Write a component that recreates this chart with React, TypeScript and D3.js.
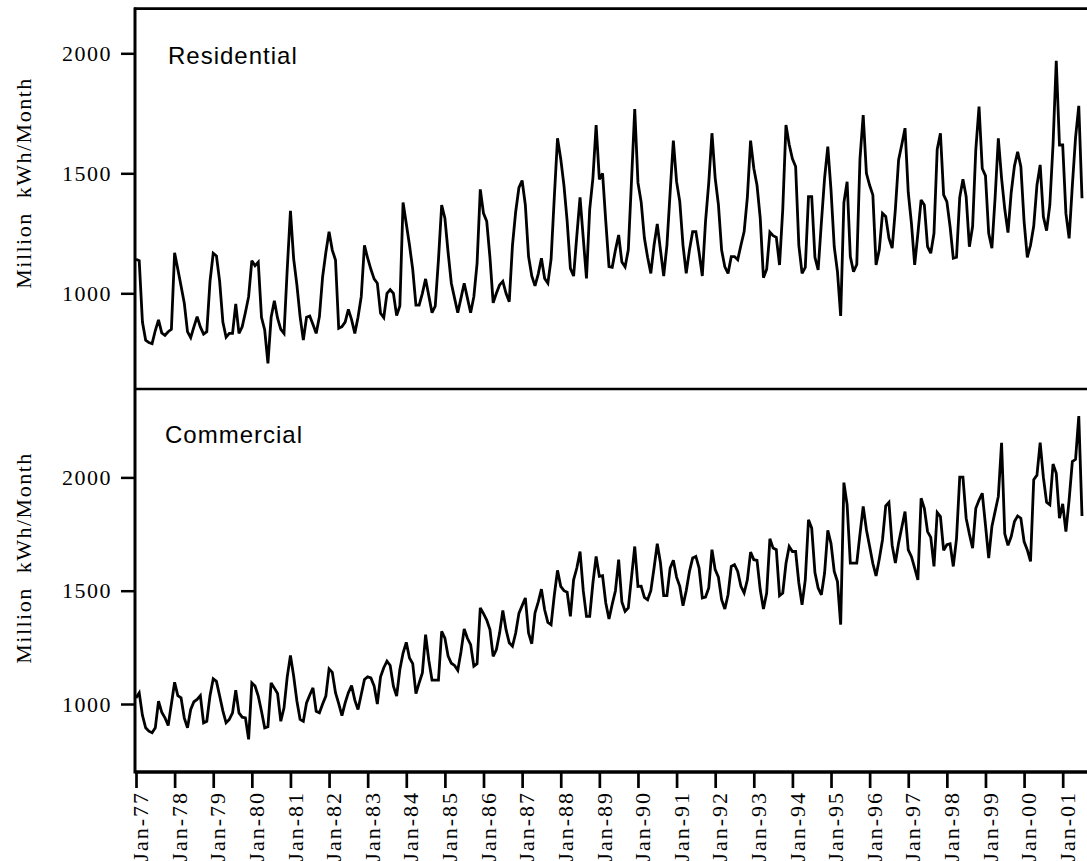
import React, { useEffect, useRef } from 'react';
import * as d3 from 'd3';

// monthly sales, Jan-77 .. Jul-01 (million kWh / month)
const residential = [
  1142, 1136, 880, 805, 795, 790, 845, 889, 835, 825, 840, 850,
  1169, 1100, 1030, 960, 840, 815, 860, 903, 860, 830, 840, 1050,
  1167, 1156, 1050, 880, 817, 833, 833, 956, 833, 860, 920, 986,
  1136, 1115, 1130, 900, 847, 708, 900, 969, 896, 850, 833, 1100,
  1344, 1143, 1035, 903, 805, 900, 905, 870, 833, 903, 1069, 1170,
  1257, 1180, 1139, 854, 861, 880, 933, 890, 833, 900, 986, 1200,
  1146, 1100, 1060, 1042, 917, 899, 1000, 1015, 1000, 907, 947, 1378,
  1290, 1200, 1100, 951, 951, 1000, 1060, 990, 919, 947, 1140, 1368,
  1313, 1170, 1042, 980, 919, 980, 1042, 980, 919, 986, 1125, 1433,
  1333, 1300, 1150, 960, 1000, 1035, 1050, 1000, 965, 1200, 1340, 1440,
  1470, 1368, 1153, 1072, 1031, 1080, 1146, 1062, 1042, 1142, 1400, 1646,
  1560, 1450, 1300, 1104, 1072, 1240, 1400, 1230, 1062, 1350, 1480, 1701,
  1475, 1500, 1300, 1111, 1108, 1180, 1243, 1130, 1110, 1181, 1470, 1768,
  1461, 1380, 1230, 1150, 1083, 1200, 1289, 1180, 1072, 1200, 1420, 1636,
  1465, 1382, 1200, 1083, 1180, 1257, 1257, 1170, 1072, 1300, 1460, 1667,
  1480, 1370, 1180, 1110, 1083, 1153, 1153, 1140, 1200, 1257, 1400, 1636,
  1521, 1450, 1313, 1065, 1100, 1255, 1240, 1233, 1118, 1350, 1701, 1620,
  1560, 1528, 1200, 1083, 1108, 1403, 1403, 1150, 1097, 1294, 1480, 1611,
  1430, 1194, 1090, 906, 1378, 1465, 1153, 1090, 1120, 1560, 1743, 1500,
  1450, 1410, 1118, 1181, 1333, 1320, 1230, 1188, 1350, 1556, 1620, 1688,
  1420, 1290, 1118, 1250, 1389, 1368, 1194, 1167, 1250, 1600, 1667, 1410,
  1382, 1278, 1146, 1150, 1400, 1475, 1403, 1194, 1278, 1600, 1778, 1520,
  1490, 1250, 1188, 1400, 1646, 1480, 1350, 1253, 1420, 1530, 1590, 1528,
  1300, 1150, 1200, 1280, 1451, 1535, 1319, 1261, 1368, 1620, 1969, 1618,
  1618, 1333, 1229, 1450, 1650, 1781, 1396,
];

const commercial = [
  1027, 1049, 950, 895, 880, 873, 895, 1013, 964, 939, 905, 1000,
  1096, 1037, 1027, 939, 895, 976, 1010, 1020, 1037, 917, 924, 1037,
  1111, 1100, 1035, 970, 917, 932, 961, 1061, 961, 942, 939, 844,
  1093, 1079, 1035, 968, 895, 900, 1093, 1070, 1046, 924, 983, 1120,
  1214, 1123, 1013, 932, 924, 1005, 1040, 1071, 968, 961, 1000, 1035,
  1155, 1140, 1050, 1002, 949, 1005, 1050, 1081, 1017, 976, 1042, 1108,
  1120, 1115, 1080, 1000, 1120, 1160, 1189, 1170, 1079, 1035, 1152, 1225,
  1272, 1203, 1178, 1046, 1093, 1137, 1306, 1193, 1105, 1105, 1105, 1321,
  1291, 1211, 1180, 1170, 1149, 1230, 1331, 1290, 1262, 1167, 1178, 1424,
  1399, 1370, 1328, 1210, 1240, 1313, 1413, 1328, 1270, 1255, 1313, 1400,
  1434, 1468, 1313, 1266, 1402, 1450, 1507, 1416, 1360, 1350, 1480, 1590,
  1519, 1500, 1493, 1387, 1548, 1600, 1673, 1500, 1387, 1387, 1534, 1651,
  1563, 1566, 1446, 1375, 1440, 1500, 1637, 1450, 1409, 1424, 1560, 1695,
  1519, 1520, 1470, 1460, 1500, 1600, 1707, 1622, 1478, 1478, 1600, 1634,
  1560, 1519, 1434, 1500, 1585, 1644, 1651, 1600, 1468, 1472, 1512, 1681,
  1593, 1560, 1460, 1419, 1482, 1607, 1615, 1585, 1519, 1490, 1548, 1670,
  1637, 1634, 1504, 1419, 1490, 1729, 1688, 1681, 1478, 1490, 1620, 1695,
  1673, 1673, 1534, 1438, 1548, 1813, 1776, 1580, 1512, 1482, 1578, 1766,
  1708, 1585, 1540, 1350, 1977, 1880, 1622, 1622, 1622, 1750, 1872, 1769,
  1695, 1620, 1565, 1640, 1725, 1874, 1890, 1700, 1622, 1710, 1780, 1849,
  1680, 1650, 1600, 1548, 1908, 1864, 1761, 1735, 1607, 1845, 1827, 1678,
  1703, 1707, 1607, 1730, 2001, 2001, 1820, 1750, 1688, 1864, 1900, 1930,
  1790, 1644, 1783, 1850, 1916, 2153, 1751, 1700, 1739, 1805, 1830, 1820,
  1717, 1680, 1629, 1990, 2010, 2153, 2000, 1890, 1879, 2059, 2018, 1820,
  1883, 1761, 1901, 2070, 2080, 2271, 1830,
];

const yearLabels = [
  'Jan-77', 'Jan-78', 'Jan-79', 'Jan-80', 'Jan-81', 'Jan-82', 'Jan-83', 'Jan-84',
  'Jan-85', 'Jan-86', 'Jan-87', 'Jan-88', 'Jan-89', 'Jan-90', 'Jan-91', 'Jan-92',
  'Jan-93', 'Jan-94', 'Jan-95', 'Jan-96', 'Jan-97', 'Jan-98', 'Jan-99', 'Jan-00',
  'Jan-01',
];

const yTicks = [1000, 1500, 2000];

const serif = '"Liberation Serif", "Times New Roman", serif';
const sans = '"Liberation Sans", Arial, sans-serif';

const SalesChart = () => {
  const svgRef = useRef<SVGSVGElement>(null);

  useEffect(() => {
    const width = 1087;
    const height = 861;
    const left = 135;
    const top = 8.7;
    const mid = 389;
    const bottom = 772;

    const svg = d3.select(svgRef.current)
      .attr('width', width)
      .attr('height', height);
    svg.selectAll('*').remove();

    // month index -> x
    const x = d3.scaleLinear()
      .domain([0, residential.length - 1])
      .range([136, 1082]);

    const panels = [
      {
        name: 'Residential',
        data: residential,
        y: d3.scaleLinear().domain([1000, 2000]).range([293.3, 53.3]),
        labelX: 168, labelY: 64, titleY: 183,
      },
      {
        name: 'Commercial',
        data: commercial,
        y: d3.scaleLinear().domain([1000, 2000]).range([704, 477.4]),
        labelX: 165, labelY: 443, titleY: 558,
      },
    ];

    panels.forEach(p => {
      const yAxis = svg.append('g')
        .attr('transform', `translate(${left},0)`)
        .call(d3.axisLeft(p.y).tickValues(yTicks).tickSize(14).tickPadding(9).tickFormat(d3.format('d')))
        .call(g => g.select('.domain').remove());
      yAxis.selectAll('line').attr('stroke', '#000').attr('stroke-width', 2.5);
      yAxis.selectAll('text')
        .attr('fill', '#000')
        .style('font-family', serif)
        .style('font-size', '22px')
        .style('letter-spacing', '1.5px');

      const line = d3.line<number>()
        .x((d, i) => x(i))
        .y(d => p.y(d));

      svg.append('path')
        .datum(p.data)
        .attr('fill', 'none')
        .attr('stroke', '#000')
        .attr('stroke-width', 2.8)
        .attr('stroke-linejoin', 'miter')
        .attr('stroke-miterlimit', 3)
        .attr('d', line);

      svg.append('text')
        .attr('x', p.labelX)
        .attr('y', p.labelY)
        .style('font-family', sans)
        .style('font-size', '24px')
        .style('letter-spacing', '1px')
        .text(p.name);

      svg.append('text')
        .attr('transform', `translate(23,${p.titleY}) rotate(-90)`)
        .attr('text-anchor', 'middle')
        .attr('dy', '0.35em')
        .style('font-family', serif)
        .style('font-size', '22px')
        .style('letter-spacing', '1.5px')
        .style('white-space', 'pre')
        .text('Million  kWh/Month');
    });

    // frame
    svg.append('line')
      .attr('x1', left - 1).attr('x2', width).attr('y1', top).attr('y2', top)
      .attr('stroke', '#000').attr('stroke-width', 2.7);
    svg.append('line')
      .attr('x1', left - 1).attr('x2', width).attr('y1', mid).attr('y2', mid)
      .attr('stroke', '#000').attr('stroke-width', 2.7);

    const xAxis = svg.append('g')
      .attr('transform', `translate(0,${bottom})`)
      .call(d3.axisBottom(x)
        .tickValues(yearLabels.map((_, i) => i * 12))
        .tickSize(16)
        .tickFormat((d, i) => yearLabels[i]));
    xAxis.select('.domain').remove();
    xAxis.selectAll('line').attr('stroke', '#000').attr('stroke-width', 2.7);
    xAxis.selectAll('text')
      .attr('fill', '#000')
      .attr('transform', 'rotate(-90)')
      .attr('x', -19)
      .attr('y', 4)
      .attr('dy', '0.35em')
      .style('text-anchor', 'end')
      .style('font-family', serif)
      .style('font-size', '22px')
      .style('letter-spacing', '2px');

    svg.append('line')
      .attr('x1', left).attr('x2', width).attr('y1', bottom).attr('y2', bottom)
      .attr('stroke', '#000').attr('stroke-width', 3.5);
    svg.append('line')
      .attr('x1', left).attr('x2', left).attr('y1', top - 1.3).attr('y2', bottom + 1.5)
      .attr('stroke', '#000').attr('stroke-width', 3);
  }, []);

  return (
    <svg ref={svgRef} style={{ position: 'absolute', left: 0, top: 0, background: '#fff' }}></svg>
  );
};

export default function App() {
  return <SalesChart />;
}
